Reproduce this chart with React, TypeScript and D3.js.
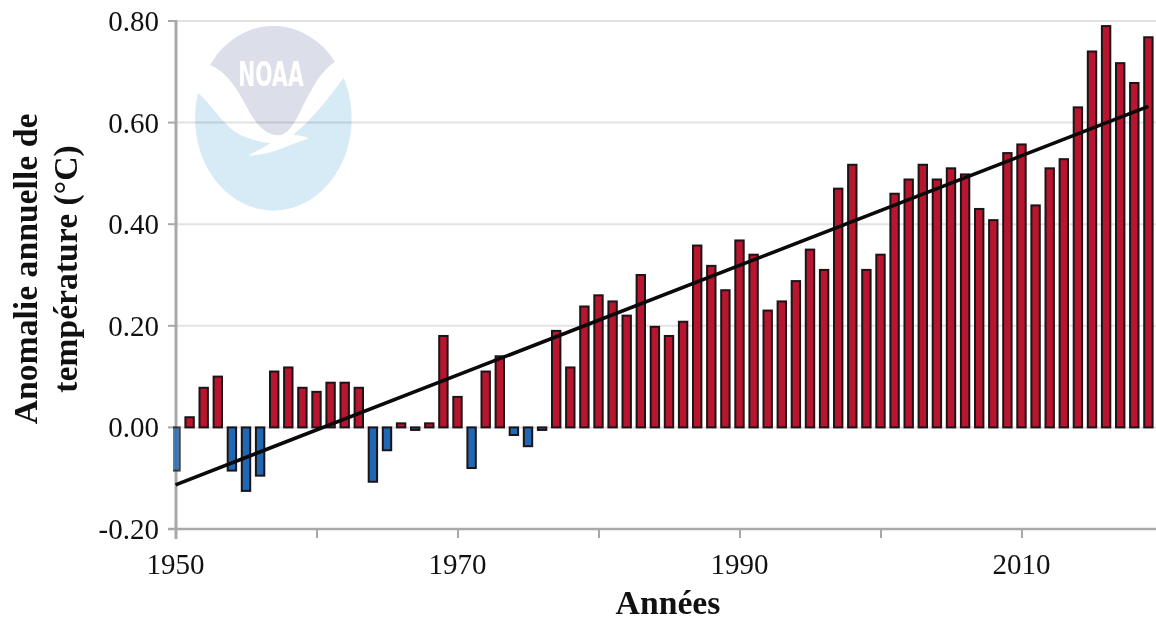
import React from "react";
import * as d3 from "d3";

const years = d3.range(1950, 2020);
const anomalies = [
  -0.085, 0.02, 0.078, 0.1, -0.085, -0.125, -0.095, 0.11, 0.118, 0.078,
  0.07, 0.088, 0.088, 0.078, -0.107, -0.045, 0.008, -0.005, 0.008, 0.18,
  0.06, -0.08, 0.11, 0.14, -0.015, -0.037, -0.005, 0.19, 0.118, 0.238,
  0.26, 0.248, 0.22, 0.3, 0.198, 0.18, 0.208, 0.358, 0.318, 0.27,
  0.368, 0.34, 0.23, 0.248, 0.288, 0.35, 0.31, 0.47, 0.517, 0.31,
  0.34, 0.46, 0.488, 0.517, 0.488, 0.51, 0.498, 0.43, 0.408, 0.54,
  0.557, 0.437, 0.51, 0.528, 0.63, 0.74, 0.79, 0.717, 0.678, 0.768,
];
const trendYears = [1950, 2019];
const trendValues = [-0.113, 0.632];
const yTicks = [-0.2, 0, 0.2, 0.4, 0.6, 0.8];
const yTickLabels = ["-0.20", "0.00", "0.20", "0.40", "0.60", "0.80"];
const xLabelYears = [1950, 1970, 1990, 2010];
const xTickYears = [1950, 1960, 1970, 1980, 1990, 2000, 2010];

const W = 1156;
const H = 619;
const FONT = "'Liberation Serif', 'Times New Roman', serif";
const RED = "#b8152f";
const BLUE = "#2068b4";
const GRID = "#e2e2e2";
const AXIS = "#a8a8a8";
const TICK_SIZE = 29;
const BOLD_SIZE = 33.7;

export default function App() {
  const x = d3.scaleLinear().domain([1950, 2019]).range([175.5, 1148.4]);
  const y = d3.scaleLinear().domain([-0.2, 0.8]).range([529, 21]);
  const line = d3.line<number>().x((_, i) => x(trendYears[i])).y((d) => y(d));
  const barW = 8.4;
  return (
    <svg
      width={W}
      height={H}
      viewBox={`0 0 ${W} ${H}`}
      style={{ position: "absolute", left: 0, top: 0, background: "#fff" }}
    >
      <defs>
        <clipPath id="plot">
          <rect x={173} y={0} width={W - 173} height={H} />
        </clipPath>
      </defs>
      {yTicks.filter((t) => t !== -0.2).map((t) => (
        <line key={t} x1={x(1950)} x2={W} y1={y(t)} y2={y(t)} stroke={GRID} strokeWidth={2} />
      ))}
      <g style={{ mixBlendMode: "multiply" }} transform="translate(170,0) scale(0.3333)">
        <ellipse cx={310} cy={355} rx={235} ry={277} fill="#d6ebf5" />
        <path
          d="M60,270 L85,280 C120,310 150,360 190,392 C225,415 265,425 300,430 C280,445 255,455 235,466 C290,470 360,432 415,416 C405,408 385,405 370,404 C425,360 480,290 520,235 L510,170 L100,170 Z"
          fill="#fff"
        />
        <path
          d="M120,195 C170,120 235,78 310,78 C385,78 450,120 495,185 C450,215 430,260 400,315 C380,360 360,395 335,405 C290,410 260,375 235,330 C205,270 170,215 120,195 Z"
          fill="#dcdfe9"
        />
        <text
          x={205}
          y={258}
          textLength={196}
          lengthAdjust="spacingAndGlyphs"
          fontFamily="'DejaVu Sans', sans-serif"
          fontWeight={700}
          fontSize={100}
          fill="#fff"
        >
          NOAA
        </text>
      </g>
      <line x1={176} x2={176} y1={y(0.8) - 1} y2={y(-0.2) + 10} stroke={AXIS} strokeWidth={3} />
      <line x1={168} x2={W} y1={y(-0.2)} y2={y(-0.2)} stroke={AXIS} strokeWidth={2.5} />
      {yTicks.map((t, i) => (
        <g key={t}>
          <line x1={168} x2={176} y1={y(t)} y2={y(t)} stroke={AXIS} strokeWidth={2} />
          <text
            x={159}
            y={y(t) + 10}
            textAnchor="end"
            fontFamily={FONT}
            fontSize={TICK_SIZE}
            fill="#111"
          >
            {yTickLabels[i]}
          </text>
        </g>
      ))}
      {xTickYears.map((yr) => (
        <line key={yr} x1={x(yr) + 0.5} x2={x(yr) + 0.5} y1={y(-0.2)} y2={y(-0.2) + 9} stroke={AXIS} strokeWidth={2} />
      ))}
      <g clipPath="url(#plot)">
        {anomalies.map((v, i) => {
          const cx = x(years[i]);
          const y0 = y(0);
          const yv = y(v);
          return (
            <rect
              key={years[i]}
              x={cx - barW / 2}
              y={Math.min(y0, yv)}
              width={barW}
              height={Math.max(Math.abs(yv - y0), 1)}
              fill={v >= 0 ? RED : BLUE}
              stroke="#1c1418"
              strokeWidth={2}
              opacity={i === 0 ? 0.8 : 1}
            />
          );
        })}
      </g>
      <path d={line(trendValues) ?? ""} fill="none" stroke="#0a0a0a" strokeWidth={3.6} />
      {xLabelYears.map((yr) => (
        <text key={yr} x={x(yr)} y={574} textAnchor="middle" fontFamily={FONT} fontSize={TICK_SIZE} fill="#111">
          {yr}
        </text>
      ))}
      <text x={668} y={614} textAnchor="middle" fontFamily={FONT} fontSize={BOLD_SIZE} fontWeight={700} fill="#111">
        Années
      </text>
      <text
        transform="translate(37,269) rotate(-90)"
        textAnchor="middle"
        fontFamily={FONT}
        fontSize={BOLD_SIZE}
        fontWeight={700}
        fill="#111"
      >
        Anomalie annuelle de
      </text>
      <text
        transform="translate(77,269) rotate(-90)"
        textAnchor="middle"
        fontFamily={FONT}
        fontSize={BOLD_SIZE}
        fontWeight={700}
        fill="#111"
      >
        température (°C)
      </text>
    </svg>
  );
}
